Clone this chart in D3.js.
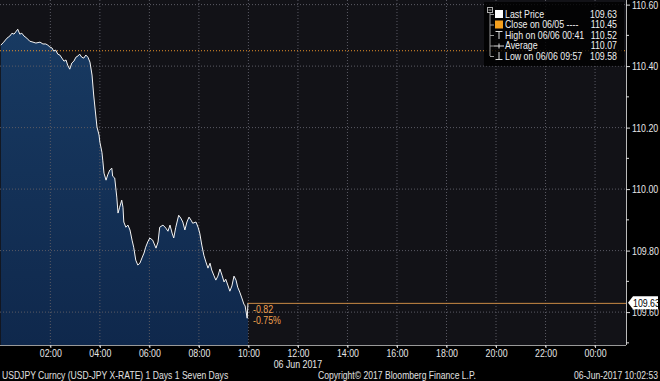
<!DOCTYPE html>
<html>
<head>
<meta charset="utf-8">
<script src="https://cdn.jsdelivr.net/npm/d3@7"></script>
<style>
  body { margin: 0; background: #000; }
  svg { display: block; }
  text { font-family: "Liberation Sans", Arial, sans-serif; }
</style>
</head>
<body>
<script>
const [width, height] = [660, 381];

// USDJPY intraday, 06 Jun 2017 (Tokyo time)
const times = ["00:00","00:07","00:15","00:22","00:27","00:32","00:36","00:41","00:46","00:51",
  "00:56","01:03","01:10","01:18","01:25","01:35","01:42","01:49","01:54","01:59",
  "02:04","02:08","02:13","02:18","02:23","02:28","02:33","02:38","02:42","02:47",
  "02:52","02:57","03:02","03:07","03:11","03:16","03:21","03:26","03:31","03:36",
  "03:41","03:45","03:50","03:53","03:58","04:00","04:05","04:07","04:10","04:15",
  "04:19","04:24","04:29","04:31","04:36","04:41","04:44","04:48","04:53","04:56",
  "04:58","05:03","05:08","05:13","05:18","05:22","05:27","05:32","05:37","05:42",
  "05:47","05:51","05:56","06:01","06:08","06:16","06:21","06:25","06:33","06:40",
  "06:45","06:50","06:55","06:59","07:04","07:11","07:16","07:21","07:26","07:31",
  "07:36","07:41","07:45","07:53","07:58","08:02","08:07","08:12","08:17","08:22",
  "08:27","08:31","08:36","08:41","08:46","08:51","08:56","09:01","09:05","09:10",
  "09:15","09:20","09:25","09:30","09:34","09:39","09:44","09:49","09:52","09:57","09:59"];
const prices = [110.468,110.478,110.491,110.498,110.507,110.504,110.511,110.520,110.504,110.507,
  110.498,110.491,110.481,110.478,110.475,110.478,110.472,110.472,110.468,110.462,
  110.459,110.449,110.452,110.439,110.436,110.426,110.416,110.420,110.403,110.390,
  110.410,110.416,110.429,110.433,110.439,110.429,110.426,110.436,110.429,110.413,
  110.371,110.306,110.241,110.202,110.176,110.153,110.120,110.094,110.052,110.029,
  110.046,110.062,110.068,110.042,110.036,109.974,109.922,109.941,109.964,109.941,
  109.893,109.876,109.883,109.867,109.834,109.811,109.769,109.753,109.759,109.776,
  109.792,109.811,109.828,109.841,109.834,109.808,109.828,109.876,109.883,109.873,
  109.863,109.883,109.857,109.841,109.876,109.915,109.906,109.893,109.867,109.893,
  109.909,109.899,109.889,109.893,109.876,109.857,109.818,109.785,109.763,109.743,
  109.759,109.737,109.720,109.704,109.717,109.740,109.720,109.698,109.707,109.688,
  109.668,109.685,109.717,109.704,109.681,109.665,109.646,109.626,109.620,109.580,109.630];

const yTicks = [109.6, 109.8, 110.0, 110.2, 110.4, 110.6];
const yMinor = [109.5, 109.7, 109.9, 110.1, 110.3, 110.5];
const lastPrice = 109.63;
const closePrice = 110.45;
const netChange = "-0.82";
const pctChange = "-0.75%";

const legendLabels = ["Last Price", "Close on 06/05 ----", "High on 06/06 00:41", "Average", "Low on 06/06 09:57"];
const legendValues = ["109.63", "110.45", "110.52", "110.07", "109.58"];

const footerLeft = "USDJPY Curncy (USD-JPY X-RATE) 1 Days 1 Seven Days";
const footerMid = "Copyright\u00a9 2017 Bloomberg Finance L.P.";
const footerRight = "06-Jun-2017 10:02:53";

const parse = d3.timeParse("%Y-%m-%d %H:%M");
const data = times.map((t, i) => ({date: parse("2017-06-06 " + t), value: prices[i]}));

const plotW = 626, plotH = 345;
const orange = '#e8922a';
const SX = 0.8; // horizontal squeeze, terminal font is narrow

// squeeze text horizontally while keeping its anchor point
function narrow(sel, s = SX) {
  sel.each(function() {
    const t = d3.select(this);
    const x0 = +t.attr('x') || 0;
    t.attr('x', x0 / s).attr('transform', `scale(${s},1)`);
  });
}

const x = d3.scaleTime()
  .domain([parse("2017-06-05 23:58"), parse("2017-06-07 01:15")])
  .range([0, plotW]);
const y = d3.scaleLinear()
  .domain([109.493, 110.615])
  .range([plotH, 0]);

const svg = d3.select('body').append('svg')
  .attr('width', width)
  .attr('height', height);

const defs = svg.append('defs');
const grad = defs.append('linearGradient')
  .attr('id', 'fillgrad')
  .attr('x1', 0).attr('y1', 0).attr('x2', 0).attr('y2', 1);
grad.append('stop').attr('offset', '0%').attr('stop-color', '#183a62');
grad.append('stop').attr('offset', '100%').attr('stop-color', '#0f284c');

svg.append('rect')
  .attr('width', width).attr('height', height)
  .attr('fill', '#000');
svg.append('rect')
  .attr('width', plotW).attr('height', plotH)
  .attr('fill', '#121217');

// area + line
const area = d3.area()
  .x(d => x(d.date))
  .y0(plotH)
  .y1(d => y(d.value));
const line = d3.line()
  .x(d => x(d.date))
  .y(d => y(d.value));

svg.append('path')
  .datum(data)
  .attr('d', area)
  .attr('fill', 'url(#fillgrad)');

// grid
const xGridTicks = d3.timeHour.every(2).range(parse("2017-06-06 02:00"), parse("2017-06-07 01:00"));
svg.append('g')
  .selectAll('line')
  .data(xGridTicks)
  .join('line')
  .attr('x1', d => x(d)).attr('x2', d => x(d))
  .attr('y1', 0).attr('y2', plotH)
  .attr('stroke', '#5a5a64')
  .attr('stroke-dasharray', '1,2');
svg.append('g')
  .selectAll('line')
  .data(yTicks)
  .join('line')
  .attr('x1', 0).attr('x2', plotW)
  .attr('y1', d => y(d)).attr('y2', d => y(d))
  .attr('stroke', '#5a5a64')
  .attr('stroke-dasharray', '1,2');

// close line
svg.append('line')
  .attr('x1', 0).attr('x2', plotW)
  .attr('y1', y(closePrice)).attr('y2', y(closePrice))
  .attr('stroke', orange)
  .attr('stroke-dasharray', '1,2');

svg.append('path')
  .datum(data)
  .attr('d', line)
  .attr('fill', 'none')
  .attr('stroke', '#f4f4f4')
  .attr('stroke-width', 1);

// last price line
const last = data[data.length - 1];
svg.append('line')
  .attr('x1', x(last.date)).attr('x2', plotW)
  .attr('y1', y(lastPrice) + 0.5).attr('y2', y(lastPrice) + 0.5)
  .attr('stroke', '#c98a45')
  .attr('stroke-width', 1);
const chg = svg.append('g').attr('fill', '#f0a050').attr('font-size', 11);
chg.append('text')
  .attr('x', x(last.date) + 5).attr('y', y(lastPrice) + 10)
  .text(netChange);
chg.append('text')
  .attr('x', x(last.date) + 5).attr('y', y(lastPrice) + 21)
  .text(pctChange);
narrow(chg.selectAll('text'));

// right axis
const yAxis = svg.append('g')
  .attr('transform', `translate(${plotW},0)`)
  .call(d3.axisRight(y).tickValues(yTicks).tickSize(4).tickPadding(2).tickFormat(d3.format('.2f')));
yAxis.select('.domain').attr('stroke', '#bbb').attr('d', `M0.5,0V${plotH}`);
yAxis.selectAll('.tick line').attr('stroke', '#ddd');
yAxis.selectAll('.tick text').attr('fill', '#e6e6e6').attr('font-size', 11)
  .style('font-family', '"Liberation Sans", Arial, sans-serif');
narrow(yAxis.selectAll('.tick text'));
svg.append('g')
  .attr('transform', `translate(${plotW},0)`)
  .selectAll('line')
  .data(yMinor)
  .join('line')
  .attr('x1', 0).attr('x2', 3)
  .attr('y1', d => y(d)).attr('y2', d => y(d))
  .attr('stroke', '#ddd');

// last price tag
const ty = y(lastPrice);
svg.append('path')
  .attr('d', `M${plotW + 2},${ty} L${plotW + 7},${ty - 6.5} H${width - 2} V${ty + 6.5} H${plotW + 7} Z`)
  .attr('fill', '#fff');
const tag = svg.append('text')
  .attr('x', plotW + 7).attr('y', ty + 4)
  .attr('fill', '#000')
  .attr('font-size', 11)
  .text(lastPrice.toFixed(2));
narrow(tag);

// bottom axis
const xAxis = svg.append('g')
  .attr('transform', `translate(0,${plotH})`)
  .call(d3.axisBottom(x)
    .tickValues(xGridTicks)
    .tickSize(3)
    .tickPadding(1)
    .tickFormat(d3.timeFormat('%H:%M')));
xAxis.select('.domain').attr('stroke', '#999').attr('d', `M0,0.5H${plotW}`);
xAxis.selectAll('.tick line').attr('stroke', '#ccc');
xAxis.selectAll('.tick text').attr('fill', '#e6e6e6').attr('font-size', 11)
  .style('font-family', '"Liberation Sans", Arial, sans-serif');
narrow(xAxis.selectAll('.tick text'));
const xMinor = d3.timeHour.every(2).range(parse("2017-06-06 01:00"), parse("2017-06-07 01:10"));
svg.append('g')
  .attr('transform', `translate(0,${plotH})`)
  .selectAll('line')
  .data(xMinor)
  .join('line')
  .attr('x1', d => x(d)).attr('x2', d => x(d))
  .attr('y1', 0).attr('y2', 2)
  .attr('stroke', '#ccc');

const dateLab = svg.append('text')
  .attr('x', x(parse("2017-06-06 12:00"))).attr('y', 368)
  .attr('text-anchor', 'middle')
  .attr('fill', '#e6e6e6')
  .attr('font-size', 11)
  .text('06 Jun 2017');
narrow(dateLab);

// footer
const footer = svg.append('g').attr('fill', '#e0e0e0').attr('font-size', 10);
footer.append('text').attr('x', 2).attr('y', 379).text(footerLeft);
footer.append('text').attr('x', 318).attr('y', 379).text(footerMid);
footer.append('text').attr('x', 658).attr('y', 379).attr('text-anchor', 'end').text(footerRight);
narrow(footer.selectAll('text'), 0.86);

// legend
const lg = svg.append('g').attr('transform', 'translate(484,2)');
lg.append('rect')
  .attr('width', 140).attr('height', 64)
  .attr('fill', '#000').attr('fill-opacity', 0.8);
const rowY = i => 12 + i * 10.5;
lg.append('rect').attr('x', 3.5).attr('y', 5.5).attr('width', 5).attr('height', 5)
  .attr('fill', 'none').attr('stroke', '#aaa');
lg.append('line').attr('x1', 4.5).attr('x2', 7.5).attr('y1', 8).attr('y2', 8).attr('stroke', '#aaa');
lg.append('line').attr('x1', 6).attr('x2', 6).attr('y1', 11).attr('y2', rowY(4))
  .attr('stroke', '#999');
lg.selectAll('.branch')
  .data(legendLabels)
  .join('line')
  .attr('class', 'branch')
  .attr('x1', 6).attr('x2', 10)
  .attr('y1', (d, i) => rowY(i) + 0.5).attr('y2', (d, i) => rowY(i) + 0.5)
  .attr('stroke', '#999');
// icons
lg.append('rect').attr('x', 11).attr('y', rowY(0) - 4).attr('width', 8).attr('height', 8).attr('fill', '#fff');
lg.append('rect').attr('x', 11).attr('y', rowY(1) - 4).attr('width', 8).attr('height', 8).attr('fill', '#f5a01e');
lg.append('path').attr('d', `M11.5,${rowY(2) - 3.5}H18.5M15,${rowY(2) - 3.5}V${rowY(2) + 4}`)
  .attr('stroke', '#ddd').attr('fill', 'none');
lg.append('path').attr('d', `M10,${rowY(3) + 0.5}H20M15,${rowY(3) - 2}V${rowY(3) + 3}`)
  .attr('stroke', '#ddd').attr('fill', 'none');
lg.append('path').attr('d', `M11.5,${rowY(4) + 3.5}H18.5M15,${rowY(4) - 4}V${rowY(4) + 3.5}`)
  .attr('stroke', '#ddd').attr('fill', 'none');
lg.selectAll('.lab')
  .data(legendLabels)
  .join('text')
  .attr('class', 'lab')
  .attr('x', 21).attr('y', (d, i) => rowY(i) + 4)
  .attr('fill', '#f0f0f0').attr('font-size', 11)
  .text(d => d);
lg.selectAll('.val')
  .data(legendValues)
  .join('text')
  .attr('class', 'val')
  .attr('x', 133).attr('y', (d, i) => rowY(i) + 4)
  .attr('text-anchor', 'end')
  .attr('fill', '#f0f0f0').attr('font-size', 11)
  .text(d => d);
narrow(lg.selectAll('text'));
</script>
</body>
</html>
